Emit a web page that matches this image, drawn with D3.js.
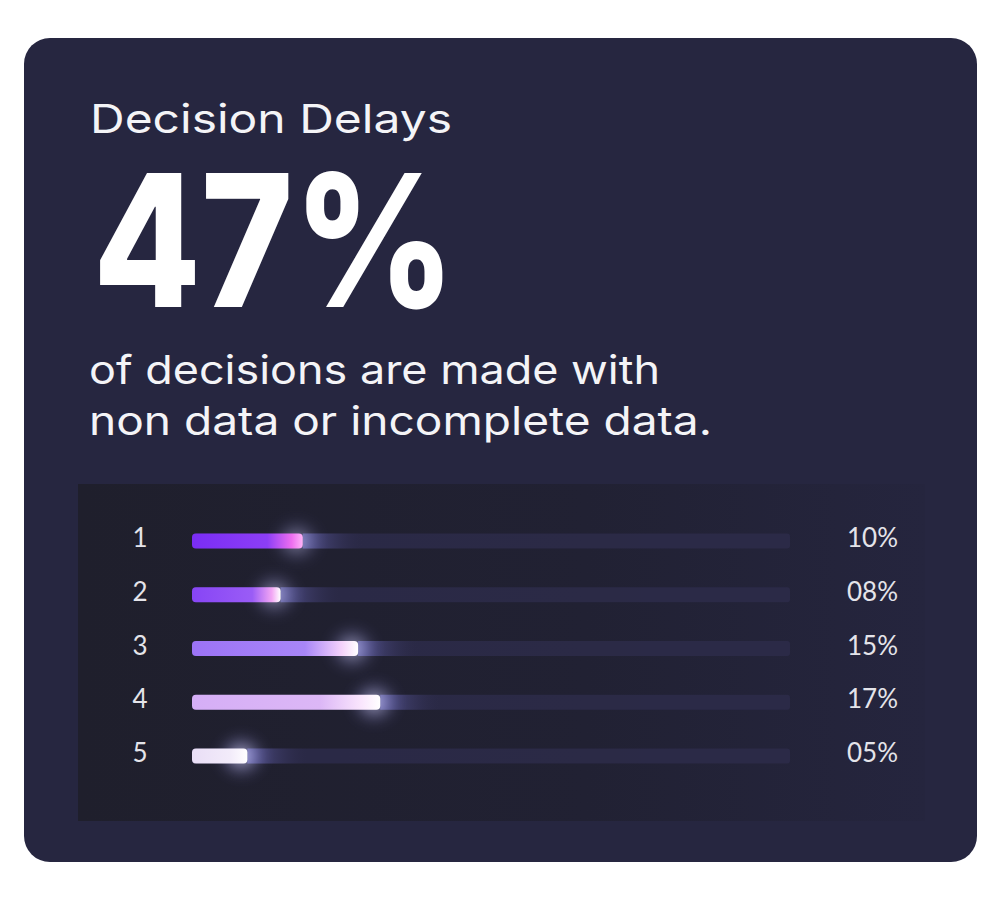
<!DOCTYPE html>
<meta charset="utf-8">
<style>
  body { margin: 0; background: #ffffff; }
  .head { font-family: Inter, 'Open Sans', sans-serif; fill: #f4f4f7; }
  .tick-label { font-family: Lato, 'Open Sans', sans-serif; font-size: 26px; fill: #e4e4ea; }
</style>
<script src="https://d3js.org/d3.v7.min.js"></script>
<div id="chart"></div>
<script>
// data
var categories = ["1", "2", "3", "4", "5"];
var values = [10, 8, 15, 17, 5];
var valueLabels = ["10%", "08%", "15%", "17%", "05%"];

// colour stops for each bar (start -> end)
var palette = [
  ["#7a2df5", "#8c3ef6", "#ee6ef0", "#ffb4f8"],
  ["#8745f5", "#9a5cf6", "#f2a6f4", "#ffffff"],
  ["#9c73f6", "#a886f7", "#f4d2fb", "#ffffff"],
  ["#d5aef6", "#dcb7f6", "#fae6fd", "#ffffff"],
  ["#e9def6", "#f2ebfa", "#fbf8fe", "#ffffff"]
];

var W = 1000, H = 900;

var svg = d3.select("#chart")
  .append("svg")
    .attr("width", W)
    .attr("height", H);

var defs = svg.append("defs");

var pg = defs.append("linearGradient").attr("id", "panelGrad");
pg.append("stop").attr("offset", "0%").attr("stop-color", "#1f1f2c");
pg.append("stop").attr("offset", "60%").attr("stop-color", "#212133");
pg.append("stop").attr("offset", "100%").attr("stop-color", "#25253e");

defs.append("filter").attr("id", "blur")
  .attr("x", "-100%").attr("y", "-100%").attr("width", "300%").attr("height", "300%")
  .append("feGaussianBlur").attr("stdDeviation", 7);

var rg = defs.append("radialGradient").attr("id", "glowGrad");
rg.append("stop").attr("offset", "0%").attr("stop-color", "#ffffff").attr("stop-opacity", 0.95);
rg.append("stop").attr("offset", "45%").attr("stop-color", "#b9b6ff").attr("stop-opacity", 0.5);
rg.append("stop").attr("offset", "100%").attr("stop-color", "#8c88e0").attr("stop-opacity", 0);

var sg = defs.append("linearGradient").attr("id", "spillGrad");
sg.append("stop").attr("offset", "0%").attr("stop-color", "#5d5ca0").attr("stop-opacity", 0.9);
sg.append("stop").attr("offset", "100%").attr("stop-color", "#2e2c4c").attr("stop-opacity", 0);

palette.forEach(function(p, i) {
  var g = defs.append("linearGradient").attr("id", "bar" + i);
  [0, 0.68, 0.9, 1].forEach(function(o, j) {
    g.append("stop").attr("offset", o).attr("stop-color", p[j]);
  });
});

// card
svg.append("rect")
  .attr("x", 24).attr("y", 38)
  .attr("width", 953).attr("height", 824)
  .attr("rx", 26)
  .attr("fill", "#262640");

// heading texts
svg.append("text")
  .attr("class", "head")
  .attr("x", 90).attr("y", 133)
  .attr("font-size", 40)
  .attr("textLength", 362)
  .attr("lengthAdjust", "spacingAndGlyphs")
  .text("Decision Delays");

svg.append("text")
  .attr("class", "head")
  .attr("x", 93).attr("y", 307)
  .attr("font-size", 184)
  .attr("font-weight", 800)
  .style("fill", "#ffffff")
  .attr("textLength", 362)
  .attr("lengthAdjust", "spacingAndGlyphs")
  .text("47%");

svg.append("text")
  .attr("class", "head")
  .attr("x", 89).attr("y", 384)
  .attr("font-size", 39)
  .attr("textLength", 571)
  .attr("lengthAdjust", "spacingAndGlyphs")
  .text("of decisions are made with");

svg.append("text")
  .attr("class", "head")
  .attr("x", 89).attr("y", 435)
  .attr("font-size", 39)
  .attr("textLength", 623)
  .attr("lengthAdjust", "spacingAndGlyphs")
  .text("non data or incomplete data.");

// inner panel
svg.append("rect")
  .attr("x", 78).attr("y", 484)
  .attr("width", 847).attr("height", 337)
  .attr("fill", "url(#panelGrad)");

// scales
var x = d3.scaleLinear()
  .domain([0, 54])
  .range([192, 790]);

var y = d3.scalePoint()
  .domain(categories)
  .range([541, 756]);

var barH = 15;

var rows = svg.append("g")
  .selectAll("g")
  .data(categories)
  .enter()
  .append("g");

// track
rows.append("rect")
  .attr("x", x(0))
  .attr("y", function(d) { return y(d) - barH / 2; })
  .attr("width", x.range()[1] - x(0))
  .attr("height", barH)
  .attr("rx", 3)
  .attr("fill", "#2d2b4a")
  .attr("opacity", 0.85);

// light spilling onto the track
rows.append("rect")
  .attr("x", function(d, i) { return x(values[i]); })
  .attr("y", function(d) { return y(d) - barH / 2; })
  .attr("width", 60)
  .attr("height", barH)
  .attr("fill", "url(#spillGrad)");

// glow at the bar tip
rows.append("ellipse")
  .attr("cx", function(d, i) { return x(values[i]) - 6; })
  .attr("cy", function(d) { return y(d); })
  .attr("rx", 24)
  .attr("ry", 22)
  .attr("fill", "url(#glowGrad)")
  .attr("opacity", function(d, i) { return 0.6 + i * 0.07; })
  .attr("filter", "url(#blur)");

// bar
rows.append("rect")
  .attr("x", x(0))
  .attr("y", function(d) { return y(d) - barH / 2; })
  .attr("width", function(d, i) { return x(values[i]) - x(0); })
  .attr("height", barH)
  .attr("rx", 4)
  .attr("fill", function(d, i) { return "url(#bar" + i + ")"; });

// category labels
rows.append("text")
  .attr("class", "tick-label")
  .attr("x", 140)
  .attr("y", function(d) { return y(d) + 6; })
  .attr("text-anchor", "middle")
  .text(function(d) { return d; });

// value labels
rows.append("text")
  .attr("class", "tick-label")
  .attr("x", 898)
  .attr("y", function(d) { return y(d) + 6; })
  .attr("text-anchor", "end")
  .text(function(d, i) { return valueLabels[i]; });
</script>
